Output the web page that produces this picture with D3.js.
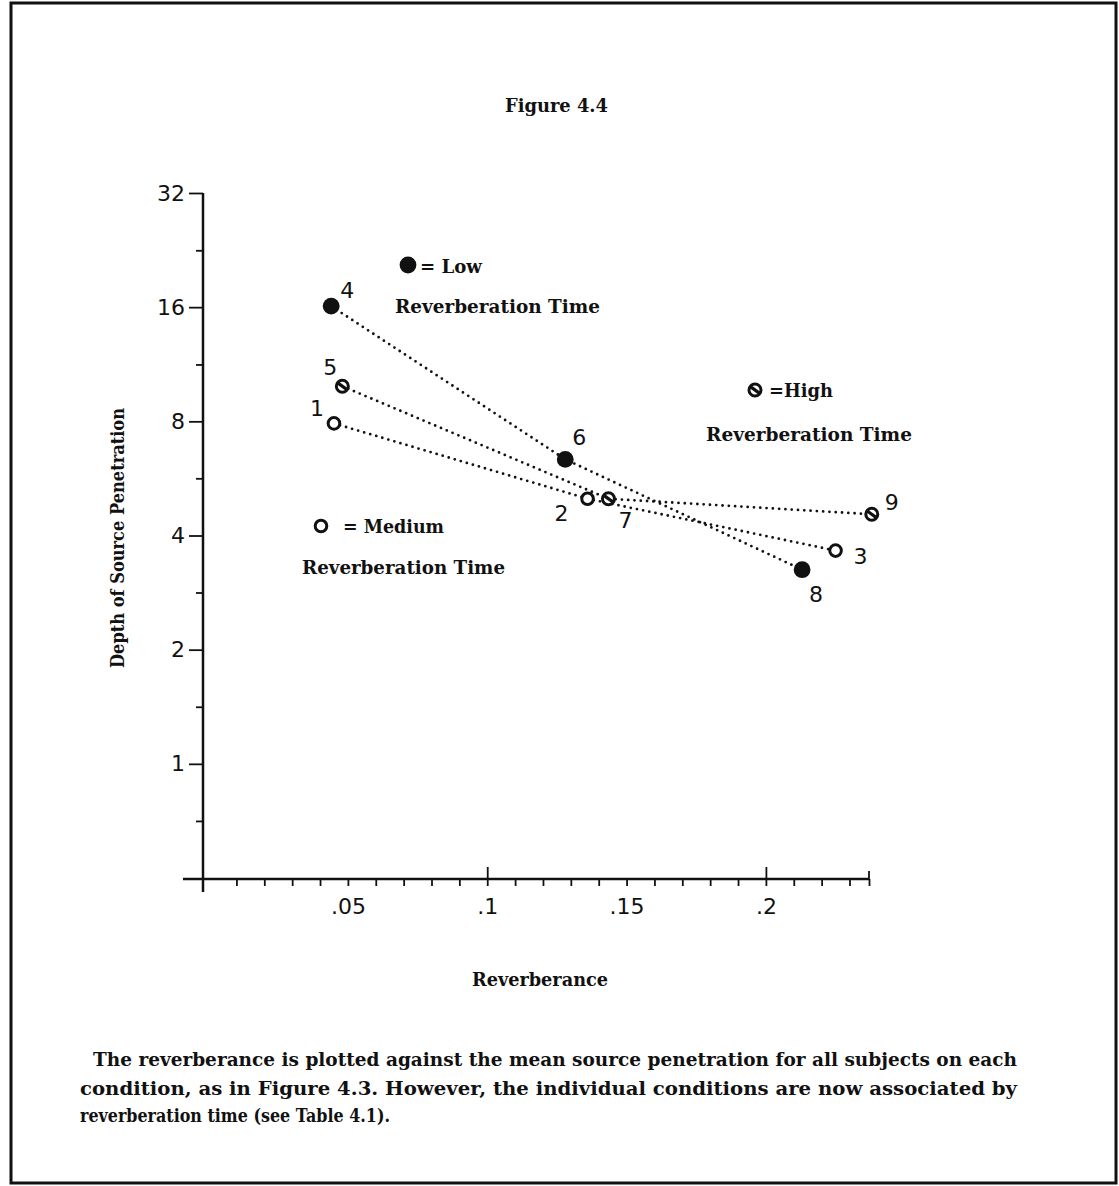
<!DOCTYPE html>
<html>
<head>
<meta charset="utf-8">
<script src="https://cdn.jsdelivr.net/npm/d3@7"></script>
<style>
  html, body { margin: 0; padding: 0; background: #fff; }
  svg { display: block; }
  .serif { font-family: "DejaVu Serif", "Liberation Serif", serif; font-weight: bold; fill: #111; }
  .sans { font-family: "DejaVu Sans", "Lato", sans-serif; fill: #111; }
</style>
</head>
<body>
<script>
// Condition number, reverberance (x) and mean source penetration depth (y)
const conditions    = [1, 2, 3, 4, 5, 6, 7, 8, 9];
const reverberance  = [0.045, 0.136, 0.225, 0.044, 0.048, 0.128, 0.1435, 0.213, 0.238];
const penetration   = [7.9, 5.0, 3.65, 16.1, 9.9, 6.35, 5.0, 3.25, 4.55];
const reverbTime    = ["Medium", "Medium", "Medium", "Low", "High", "Low", "High", "Low", "High"];

// Conditions joined by reverberation time, in order of increasing reverberance
const lowGroup    = [4, 6, 8];
const mediumGroup = [1, 2, 3];
const highGroup   = [5, 7, 9];

// Axis ticks
const yMajorTicks = [1, 2, 4, 8, 16, 32];
const yMinorTicks = [0.707, 1.414, 2.83, 5.66, 11.3, 22.6];
const xLabelTicks = [0.05, 0.1, 0.15, 0.2];
const xLabelText  = [".05", ".1", ".15", ".2"];
const xLongTicks  = [0.1, 0.2];
const xMinorTicks = [0.01, 0.02, 0.03, 0.04, 0.05, 0.06, 0.07, 0.08, 0.09, 0.1,
                     0.11, 0.12, 0.13, 0.14, 0.15, 0.16, 0.17, 0.18, 0.19, 0.2,
                     0.21, 0.22, 0.23];

const titleText  = "Figure 4.4";
const xTitle     = "Reverberance";
const yTitle     = "Depth of Source Penetration";
const caption    = [
  "The reverberance is plotted against the mean source penetration for all subjects on each",
  "condition, as in Figure 4.3.  However, the individual conditions are now associated by",
  "reverberation time (see Table 4.1)."
];

const W = 1119, H = 1186;
const svg = d3.select("body").append("svg").attr("width", W).attr("height", H);

// page frame
svg.append("rect").attr("x", 11).attr("y", 3).attr("width", 1105).attr("height", 1180)
  .attr("fill", "none").attr("stroke", "#111").attr("stroke-width", 3);

const x = d3.scaleLinear().domain([-0.002, 0.237]).range([203, 869]);
const y = d3.scaleLog().base(2).domain([0.5, 32]).range([878, 193]);
const axisY = 879;

// axis lines
svg.append("line").attr("x1", 183).attr("x2", x.range()[1]).attr("y1", axisY).attr("y2", axisY)
  .attr("stroke", "#111").attr("stroke-width", 2.5);
svg.append("line").attr("x1", x.range()[0]).attr("x2", x.range()[0]).attr("y1", y.range()[1]).attr("y2", 892)
  .attr("stroke", "#111").attr("stroke-width", 2.5);

function styleAxis(g) {
  g.select(".domain").remove();
  g.selectAll(".tick line").attr("stroke", "#111").attr("stroke-width", 1.8);
}

// y axis: major and minor ticks
svg.append("g").attr("transform", `translate(${x.range()[0]},0)`)
  .call(d3.axisLeft(y).tickValues(yMajorTicks).tickSize(14).tickPadding(4).tickFormat(d3.format("d")))
  .call(styleAxis)
  .call(g => g.selectAll("text").attr("class", "sans").attr("font-size", 22).attr("fill", "#111"));
svg.append("g").attr("transform", `translate(${x.range()[0]},0)`)
  .call(d3.axisLeft(y).tickValues(yMinorTicks).tickSize(7).tickFormat(""))
  .call(styleAxis);

// x axis: minor ticks below, long ticks above at .1 and .2, end tick
svg.append("g").attr("transform", `translate(0,${axisY})`)
  .call(d3.axisBottom(x).tickValues(xMinorTicks).tickSize(7).tickFormat(""))
  .call(styleAxis);
svg.append("g").attr("transform", `translate(0,${axisY})`)
  .call(d3.axisTop(x).tickValues(xLongTicks).tickSize(12).tickFormat(""))
  .call(styleAxis);
svg.append("g").attr("transform", `translate(0,${axisY})`)
  .call(d3.axisBottom(x).tickValues([x.domain()[1]]).tickSize(7).tickFormat(""))
  .call(styleAxis);
svg.append("line").attr("x1", x.range()[1]).attr("x2", x.range()[1]).attr("y1", axisY - 8).attr("y2", axisY)
  .attr("stroke", "#111").attr("stroke-width", 1.8);
svg.append("g").attr("transform", `translate(0,${axisY})`)
  .call(d3.axisBottom(x).tickValues(xLabelTicks).tickSize(0).tickPadding(19)
    .tickFormat((d, i) => xLabelText[i]))
  .call(styleAxis)
  .call(g => g.selectAll("text").attr("class", "sans").attr("font-size", 22).attr("fill", "#111"));

// titles
svg.append("text").attr("class", "serif").attr("x", 505).attr("y", 112).attr("font-size", 18)
  .attr("textLength", 103).attr("lengthAdjust", "spacingAndGlyphs").text(titleText);
svg.append("text").attr("class", "serif").attr("x", 472).attr("y", 986).attr("font-size", 18)
  .attr("textLength", 136).attr("lengthAdjust", "spacingAndGlyphs").text(xTitle);
svg.append("text").attr("class", "serif").attr("font-size", 18)
  .attr("transform", "translate(124,668) rotate(-90)")
  .attr("textLength", 260).attr("lengthAdjust", "spacingAndGlyphs").text(yTitle);

// caption
const capX = [93, 80, 80], capEnd = [1017, 1017, 390], capY = [1066, 1095, 1122];
caption.forEach((line, i) => {
  svg.append("text").attr("class", "serif").attr("x", capX[i]).attr("y", capY[i]).attr("font-size", 18)
    .attr("textLength", capEnd[i] - capX[i]).attr("lengthAdjust", "spacingAndGlyphs").text(line);
});

// points
const points = conditions.map((c, i) => ({
  id: c, x: reverberance[i], y: penetration[i], type: reverbTime[i]
}));
const byId = id => points.find(p => p.id === id);

// dotted connecting lines
const line = d3.line().x(p => x(p.x)).y(p => y(p.y));
[lowGroup, mediumGroup, highGroup].forEach(group => {
  svg.append("path").datum(group.map(byId)).attr("d", line)
    .attr("fill", "none").attr("stroke", "#111").attr("stroke-width", 2.8)
    .attr("stroke-linecap", "round").attr("stroke-dasharray", "0 6.3");
});

// marker drawing for each reverberation-time class
function drawMarker(g, type) {
  if (type === "Low") {
    g.append("circle").attr("r", 8.4).attr("fill", "#111");
  } else if (type === "Medium") {
    g.append("circle").attr("r", 5.8).attr("fill", "#fff").attr("stroke", "#111").attr("stroke-width", 3);
  } else {
    g.append("circle").attr("r", 6).attr("fill", "#fff").attr("stroke", "#111").attr("stroke-width", 3);
    g.append("line").attr("x1", -5).attr("y1", -3.6).attr("x2", 5).attr("y2", 3.6)
      .attr("stroke", "#111").attr("stroke-width", 3.2);
  }
}

points.forEach(p => {
  const g = svg.append("g").attr("transform", `translate(${x(p.x)},${y(p.y)})`);
  drawMarker(g, p.type);
});

// condition number labels, offset from their markers
const labelOffset = {1: [-17, -15], 2: [-26, 15], 3: [25, 6], 4: [16, -16], 5: [-12, -19],
                     6: [14, -22], 7: [17, 22], 8: [14, 25], 9: [20, -12]};
points.forEach(p => {
  const [dx, dy] = labelOffset[p.id];
  svg.append("text").attr("class", "sans").attr("font-size", 22)
    .attr("x", x(p.x) + dx).attr("y", y(p.y) + dy)
    .attr("text-anchor", "middle").attr("dominant-baseline", "central")
    .text(p.id);
});

// legend entries
const legend = [
  {type: "Low",    sx: 408, sy: 265, label: "= Low",    lx: 420, ly: 273, lw: 62,  tx: 395, ty: 313, tw: 205},
  {type: "High",   sx: 755, sy: 390, label: "=High",    lx: 769, ly: 397, lw: 64,  tx: 706, ty: 441, tw: 206},
  {type: "Medium", sx: 321, sy: 526, label: "= Medium", lx: 343, ly: 533, lw: 101, tx: 302, ty: 574, tw: 203}
];
legend.forEach(l => {
  const g = svg.append("g").attr("transform", `translate(${l.sx},${l.sy})`);
  drawMarker(g, l.type);
  svg.append("text").attr("class", "serif").attr("x", l.lx).attr("y", l.ly).attr("font-size", 19)
    .attr("textLength", l.lw).attr("lengthAdjust", "spacingAndGlyphs").text(l.label);
  svg.append("text").attr("class", "serif").attr("x", l.tx).attr("y", l.ty).attr("font-size", 19)
    .attr("textLength", l.tw).attr("lengthAdjust", "spacingAndGlyphs").text("Reverberation Time");
});
</script>
</body>
</html>
